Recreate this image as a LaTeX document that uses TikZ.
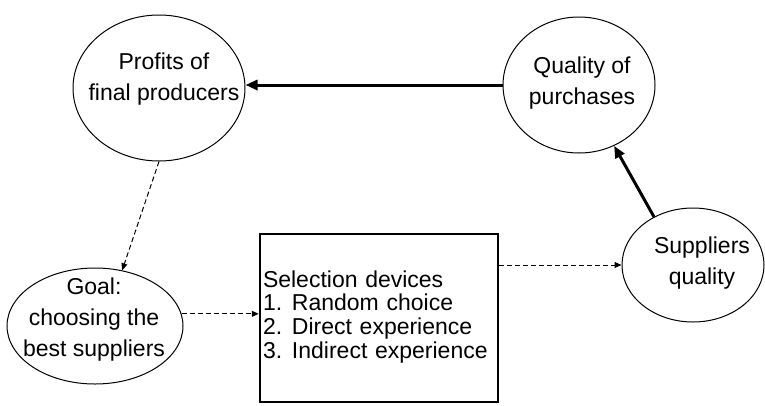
\documentclass[tikz,border=0pt]{standalone}
\usepackage{fontspec}
\setmainfont{Liberation Sans}
\usetikzlibrary{shapes.geometric,arrows.meta}
\begin{document}
\begin{tikzpicture}[x=1pt,y=-1pt,
  oval/.style={draw,ellipse,line width=1pt,inner sep=0pt},
  ovaltext/.style={inner sep=0pt,align=center,font=\fontsize{23}{31}\selectfont},
  devbox/.style={draw,rectangle,line width=2.5pt,inner sep=3pt,text width=232pt,minimum height=168pt,font=\fontsize{23}{23.4}\selectfont},
  strong/.style={line width=3pt,-{Triangle[length=12pt,width=10pt]}},
  weak/.style={line width=1pt,dash pattern=on 5pt off 3pt,-{Triangle[length=7pt,width=6pt]}}]
\useasboundingbox (0,0) rectangle (765,405);
\node[oval,minimum width=172pt,minimum height=146pt] (prof) at (159,88) {};
\node[ovaltext] (profT) at (164,79) {Profits of\\final producers};
\node[oval,minimum width=152pt,minimum height=136pt] (qual) at (579,85) {};
\node[ovaltext] (qualT) at (582,83) {Quality of\\purchases};
\node[oval,minimum width=176pt,minimum height=116pt] (goal) at (95,326) {};
\node[ovaltext] (goalT) at (94,320) {Goal:\\choosing the\\best suppliers};
\node[oval,minimum width=142pt,minimum height=114pt] (supp) at (693,265) {};
\node[ovaltext] (suppT) at (702,263) {Suppliers\\quality};
\node[devbox] (dev) at (379,318) {\begin{tabular}{@{}p{29pt}@{}l@{}}
\multicolumn{2}{@{}l@{}}{Selection devices}\\
1. & Random choice\\
2. & Direct experience\\
3. & Indirect experience
\end{tabular}};
\draw[strong] (qual.west) -- (qual.west -| prof.east);
\draw[strong] (supp.129) -- (qual.-60);
\draw[weak] (prof.-90) -- (goal.64);
\draw[weak] (goal.8) -- (goal.8 -| dev.west);
\draw[weak] (supp.west -| dev.east) -- (supp.west);
\end{tikzpicture}
\end{document}
